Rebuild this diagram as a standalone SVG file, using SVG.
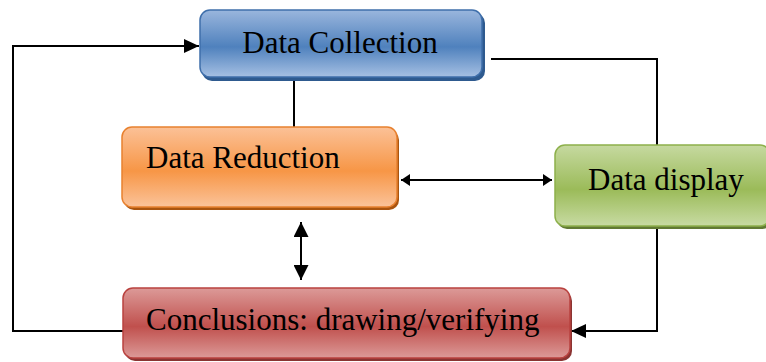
<svg xmlns="http://www.w3.org/2000/svg" width="766" height="362" viewBox="0 0 766 362">
<style>
.lbl{font-family:"Liberation Serif","Times New Roman",serif;font-size:31px;fill:#000}
.con{fill:none;stroke:#000;stroke-width:2}
</style>
<defs>
<linearGradient id="gBlue" x1="0" y1="0" x2="0" y2="1"><stop offset="0" stop-color="#9ab6dd"/><stop offset="0.55" stop-color="#4f81bd"/><stop offset="1" stop-color="#a6c0e3"/></linearGradient>
<linearGradient id="gOrange" x1="0" y1="0" x2="0" y2="1"><stop offset="0" stop-color="#fbc197"/><stop offset="0.55" stop-color="#f79646"/><stop offset="1" stop-color="#fbc39a"/></linearGradient>
<linearGradient id="gGreen" x1="0" y1="0" x2="0" y2="1"><stop offset="0" stop-color="#c6d9a0"/><stop offset="0.55" stop-color="#9bbb59"/><stop offset="1" stop-color="#c8dba3"/></linearGradient>
<linearGradient id="gRed" x1="0" y1="0" x2="0" y2="1"><stop offset="0" stop-color="#dc9a98"/><stop offset="0.55" stop-color="#c0504d"/><stop offset="1" stop-color="#dc9a98"/></linearGradient>
<marker id="ahH" viewBox="0 0 10 10" refX="10" refY="5" markerWidth="9" markerHeight="12" markerUnits="userSpaceOnUse" orient="auto-start-reverse" preserveAspectRatio="none"><path d="M0,0 L10,5 L0,10 Z" fill="#000"/></marker>
<marker id="ahV" viewBox="0 0 10 10" refX="10" refY="5" markerWidth="15" markerHeight="15" markerUnits="userSpaceOnUse" orient="auto-start-reverse" preserveAspectRatio="none"><path d="M0,0 L10,5 L0,10 Z" fill="#000"/></marker>
<marker id="ahBig" viewBox="0 0 10 10" refX="10" refY="5" markerWidth="15" markerHeight="14" markerUnits="userSpaceOnUse" orient="auto" preserveAspectRatio="none"><path d="M0,0 L10,5 L0,10 Z" fill="#000"/></marker>
</defs>

<g id="connectors">
<path class="con" d="M123,331 H13 V46 H199" marker-end="url(#ahBig)"/>
<path class="con" d="M294,80 V127"/>
<path class="con" d="M491,59 H657 V145"/>
<path class="con" d="M401,180 H552" marker-start="url(#ahH)" marker-end="url(#ahH)"/>
<path class="con" d="M301,222 V280" marker-start="url(#ahV)" marker-end="url(#ahV)"/>
<path class="con" d="M657,226 V331 H571" marker-end="url(#ahBig)"/>
</g>

<g id="data-collection">
<rect x="202" y="13" width="283" height="68" rx="10" fill="#2e5a8f"/>
<rect x="200" y="10" width="282" height="67" rx="10" fill="url(#gBlue)" stroke="#3f6fab" stroke-width="1.5"/>
<text class="lbl" x="340" y="53" text-anchor="middle">Data Collection</text>
</g>

<g id="data-reduction">
<rect x="124" y="130" width="275" height="80" rx="10" fill="#a9540f"/>
<rect x="122" y="127" width="275" height="80" rx="10" fill="url(#gOrange)" stroke="#e8812f" stroke-width="1.5"/>
<text class="lbl" x="146" y="168">Data Reduction</text>
</g>

<g id="data-display">
<rect x="557" y="148" width="215" height="81" rx="10" fill="#617a33"/>
<rect x="555" y="145" width="215" height="81" rx="10" fill="url(#gGreen)" stroke="#8db04b" stroke-width="1.5"/>
<text class="lbl" x="588" y="190">Data display</text>
</g>

<g id="conclusions">
<rect x="125" y="291" width="447" height="70" rx="10" fill="#8a3432"/>
<rect x="123" y="288" width="447" height="70" rx="10" fill="url(#gRed)" stroke="#b9423f" stroke-width="1.5"/>
<text class="lbl" x="146" y="330">Conclusions: drawing/verifying</text>
</g>
</svg>
